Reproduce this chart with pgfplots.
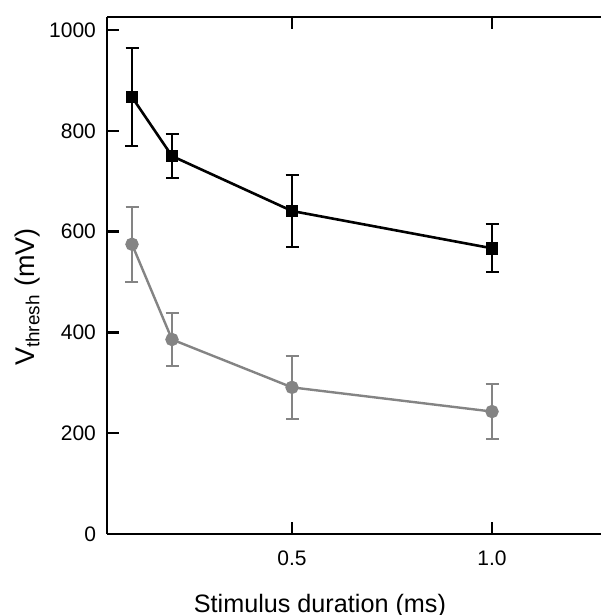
\documentclass[border=0pt]{standalone}
\usepackage{pgfplots}
\pgfplotsset{compat=1.18}
\usetikzlibrary{calc}
\usepackage{fontspec}
\setmainfont{Liberation Sans}
\definecolor{seriesgray}{RGB}{132,132,132}

\begin{document}
\begin{tikzpicture}
\begin{axis}[
    scale only axis,
    width=247pt, height=258.5pt,
    xmin=0.0375, xmax=1.2725,
    ymin=0, ymax=1026,
    axis x line*=box, axis y line*=left,
    axis line style={line width=1.3pt},
    tick align=inside,
    major tick length=6pt,
    tick style={line width=1.2pt, black},
    xtick={0.5,1.0}, xticklabels={0.5,1.0},
    ytick={0,200,400,600,800,1000},
    /pgf/number format/assume math mode=true,
    yticklabel style={/pgf/number format/1000 sep={}},
    tick label style={font=\fontsize{10.5}{12}\selectfont},
    xticklabel style={yshift=-5pt},
    yticklabel style={xshift=-2pt},
    xlabel={Stimulus duration (ms)},
    xlabel style={at={(rel axis cs:0.431,0)}, anchor=base, yshift=-39pt,
                  font=\fontsize{12.6}{15}\selectfont},
    ylabel={V\textsubscript{thresh} (mV)},
    ylabel style={at={($(rel axis cs:0,0.458)+(-36pt,0)$)},
                  anchor=base, font=\fontsize{13.5}{15}\selectfont},
    error bars/error bar style={line width=1pt},
]
% gray series (circles)
\addplot[seriesgray, line width=1.2pt, mark=*, mark size=2.75pt,
    error bars/.cd, y dir=both, y explicit,
    error mark options={rotate=90, mark size=3.25pt, line width=1pt, seriesgray}]
coordinates {
    (0.1,575) +- (0,74)
    (0.2,386) +- (0,52)
    (0.5,291) +- (0,62)
    (1.0,243) +- (0,55)
};
% black series (squares)
\addplot[black, line width=1.3pt, mark=square*, mark size=2.5pt,
    error bars/.cd, y dir=both, y explicit,
    error mark options={rotate=90, mark size=3.25pt, line width=1pt, black}]
coordinates {
    (0.1,867) +- (0,97)
    (0.2,750) +- (0,44)
    (0.5,641) +- (0,72)
    (1.0,567) +- (0,48)
};
\coordinate (bl) at (rel axis cs:0,0);
\coordinate (tr) at (rel axis cs:1,1);
\end{axis}
\pgfresetboundingbox
\useasboundingbox ($(bl)+(-53.5pt,-40.5pt)$) rectangle ($(tr)+(0,8.5pt)$);
\end{tikzpicture}
\end{document}
